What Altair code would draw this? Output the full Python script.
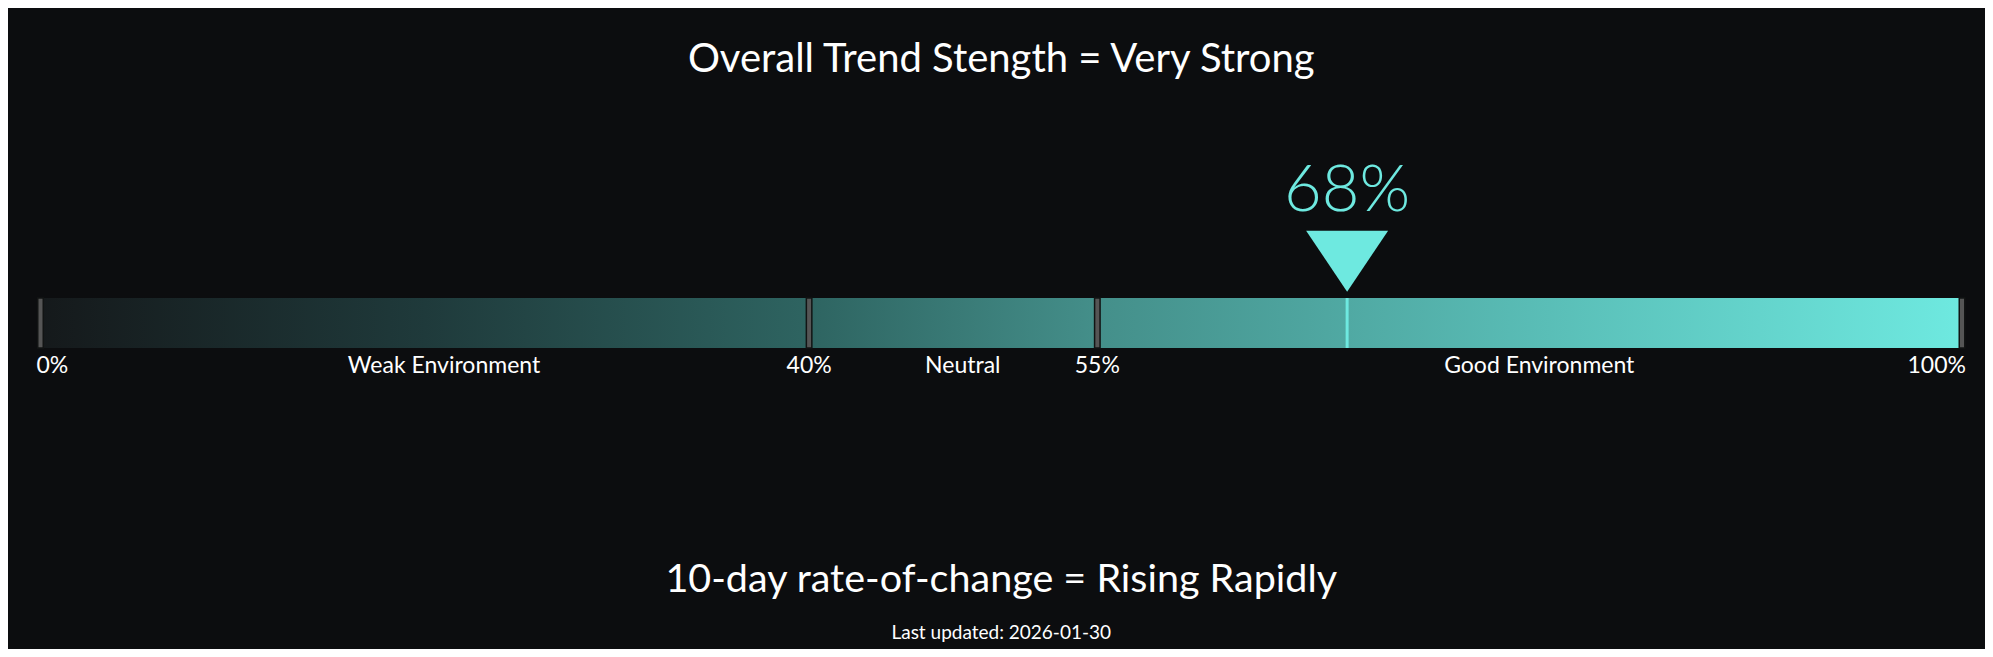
import altair as alt
import pandas as pd

# ---- data ----
boundaries = [0, 40, 55, 100]
boundary_labels = ["0%", "40%", "55%", "100%"]
boundary_align = ["left", "center", "center", "right"]
boundary_dx = [-4, 0, 0, 4]
zone_names = ["Weak Environment", "Neutral", "Good Environment"]
zone_label_pos = [21, 48, 78]
current_value = 68
current_label = "68%"
title_text = "Overall Trend Stength = Very Strong"
roc_text = "10-day rate-of-change = Rising Rapidly"
updated_text = "Last updated: 2026-01-30"

BG = "#0c0d0f"
ACCENT = "#6ee9e0"
FONT = "Lato"

xscale = alt.Scale(domain=[0, 100], nice=False, zero=False)
X = lambda f: alt.X(f, type="quantitative", scale=xscale, axis=None)

bar_df = pd.DataFrame({"start": [boundaries[0]], "end": [boundaries[-1]]})
sep_df = pd.DataFrame({"v": boundaries, "lab": boundary_labels,
                       "al": boundary_align, "dx": boundary_dx})
zone_df = pd.DataFrame({"v": zone_label_pos, "lab": zone_names})
val_df = pd.DataFrame({"v": [current_value], "lab": [current_label]})
center_df = pd.DataFrame({"v": [50], "t": [title_text], "r": [roc_text], "u": [updated_text]})

BAR_TOP, BAR_BOT = 290.0, 340.0

gradient = alt.Gradient(
    gradient="linear",
    stops=[
        alt.GradientStop(color="#15191b", offset=0),
        alt.GradientStop(color="#1f3a3b", offset=0.2),
        alt.GradientStop(color="#2e6461", offset=0.4),
        alt.GradientStop(color="#448f8a", offset=0.55),
        alt.GradientStop(color="#50a9a3", offset=0.68),
        alt.GradientStop(color=ACCENT, offset=1),
    ],
    x1=0, x2=1, y1=0, y2=0,
)

bar = alt.Chart(bar_df).mark_rect(color=gradient).encode(
    x=X("start"), x2="end", y=alt.value(BAR_TOP), y2=alt.value(BAR_BOT)
)

seps = alt.Chart(sep_df).mark_tick(
    color="#555555", thickness=5.5, size=BAR_BOT - BAR_TOP, stroke="#121414", strokeWidth=1.5, opacity=1
).encode(x=X("v"), y=alt.value((BAR_TOP + BAR_BOT) / 2))

marker_line = alt.Chart(val_df).mark_rule(color=ACCENT, strokeWidth=3).encode(
    x=X("v"), y=alt.value(BAR_TOP), y2=alt.value(BAR_BOT)
)

tri = alt.Chart(val_df).mark_point(
    shape="M-1,-0.744L1,-0.744L0,0.744Z", size=6724, filled=True, color=ACCENT, opacity=1
).encode(x=X("v"), y=alt.value(253.2))

val_text = alt.Chart(val_df).mark_text(
    font=FONT, fontSize=65, fontWeight=300, color=ACCENT, baseline="alphabetic", align="center"
).encode(x=X("v"), y=alt.value(203), text="lab")

sep_text_layers = []
for al in ["left", "center", "right"]:
    sub = sep_df[sep_df["al"] == al]
    dx = int(sub["dx"].iloc[0])
    sep_text_layers.append(
        alt.Chart(sub).mark_text(
            font=FONT, fontSize=23, color="#ffffff", baseline="alphabetic", align=al, dx=dx
        ).encode(x=X("v"), y=alt.value(365), text="lab")
    )

zone_text = alt.Chart(zone_df).mark_text(
    font=FONT, fontSize=23, color="#ffffff", baseline="alphabetic", align="center"
).encode(x=X("v"), y=alt.value(365), text="lab")

title = alt.Chart(center_df).mark_text(
    font=FONT, fontSize=40, fontWeight=400, color="#ffffff", baseline="alphabetic", align="center"
).encode(x=X("v"), y=alt.value(64), text="t")

roc = alt.Chart(center_df).mark_text(
    font=FONT, fontSize=39.5, fontWeight=400, color="#ffffff", baseline="alphabetic", align="center"
).encode(x=X("v"), y=alt.value(584), text="r")

upd = alt.Chart(center_df).mark_text(
    font=FONT, fontSize=19, color="#ffffff", baseline="alphabetic", align="center"
).encode(x=X("v"), y=alt.value(631), text="u")

chart = alt.layer(
    bar, seps, marker_line, tri, val_text, *sep_text_layers, zone_text, title, roc, upd
).properties(
    width=1921.5, height=641,
    padding={"left": 32.5, "top": 0, "right": 23, "bottom": 0},
    autosize=alt.AutoSizeParams(type="none"),
    background=BG,
).configure_view(stroke=None)

chart.save("out.html", embed_options={"renderer": "svg", "actions": False})
